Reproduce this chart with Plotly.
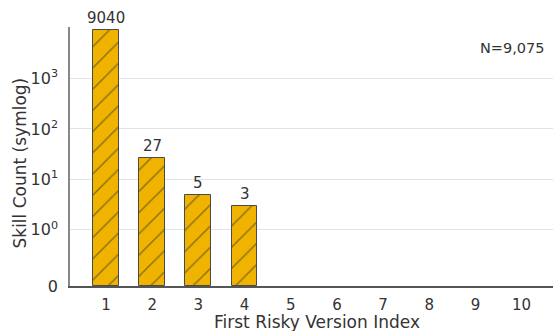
import numpy as np
import plotly.graph_objects as go

categories = [1, 2, 3, 4, 5, 6, 7, 8, 9, 10]
bar_index = [1, 2, 3, 4]
bar_counts = [9040, 27, 5, 3]
y_tick_values = [0, 1, 10, 100, 1000]
y_tick_labels = ["0", "10<sup>0</sup>", "10<sup>1</sup>", "10<sup>2</sup>", "10<sup>3</sup>"]
total_label = "N=9,075"

LINSCALE_ADJ = 1.0 / (1.0 - 1.0 / 10.0)


def symlog(v):
    v = np.asarray(v, dtype=float)
    out = np.where(np.abs(v) <= 1, v * LINSCALE_ADJ,
                   np.sign(v) * (LINSCALE_ADJ + np.log10(np.maximum(np.abs(v), 1e-12))))
    return out


FONT = "DejaVu Sans"
TXT = "#333333"

fig = go.Figure()
fig.add_trace(go.Bar(
    x=bar_index,
    y=symlog(bar_counts),
    width=0.56,
    marker=dict(
        color="#F0B400",
        line=dict(color="#4a4a4a", width=1),
        pattern=dict(shape="/", fgcolor="#2a2a2a", bgcolor="#F0B400", size=15, solidity=0.1),
    ),
    cliponaxis=False,
    hoverinfo="skip",
))

for xi, c in zip(bar_index, bar_counts):
    fig.add_annotation(
        x=xi, y=float(symlog([c])[0]), xref="x", yref="y",
        text=str(c), showarrow=False, yanchor="bottom", yshift=1,
        font=dict(family=FONT, size=15, color=TXT),
    )

fig.update_layout(
    width=553, height=331,
    margin=dict(l=70, r=0, t=27, b=45, autoexpand=False),
    plot_bgcolor="white", paper_bgcolor="white",
    showlegend=False,
    font=dict(family=FONT, size=13, color=TXT),
    bargap=0,
)
fig.update_xaxes(
    range=[0.22, 10.68],
    tickvals=categories,
    ticktext=[str(c) for c in categories],
    showgrid=False, zeroline=False, automargin=False,
    showline=True, linecolor="#555555", linewidth=1.5,
    ticks="", ticklabelstandoff=4, tickfont=dict(family=FONT, size=15, color=TXT),
)
fig.update_yaxes(
    range=[0, float(symlog([10420])[0])],
    tickvals=symlog(y_tick_values).tolist(),
    ticktext=y_tick_labels,
    showgrid=True, gridcolor="#e3e3e3", gridwidth=1,
    zeroline=False, automargin=False,
    showline=True, linecolor="#888888", linewidth=1.5,
    ticks="", ticklabelstandoff=7,
    tickfont=dict(family=FONT, size=16, color=TXT),
)
fig.add_annotation(
    xref="paper", yref="paper", x=(19.5 - 70) / 483, y=(286 - 163) / 259,
    xanchor="center", yanchor="middle",
    text="Skill Count (symlog)", textangle=-90, showarrow=False,
    font=dict(family=FONT, size=17, color=TXT),
)
fig.add_annotation(
    xref="paper", yref="paper", x=(547 - 70) / 483, y=(286 - 48) / 259,
    xanchor="right", yanchor="middle",
    text=total_label, showarrow=False, font=dict(family=FONT, size=14.5, color=TXT),
)
fig.add_annotation(
    xref="paper", yref="paper", x=(316.5 - 70) / 483, y=-36 / 259,
    xanchor="center", yanchor="middle",
    text="First Risky Version Index", showarrow=False, font=dict(family=FONT, size=17, color=TXT),
)
fig.write_html(
    "out.html",
    config={"displayModeBar": False},
    post_script="document.body.style.margin='0';document.body.style.padding='0';",
)
